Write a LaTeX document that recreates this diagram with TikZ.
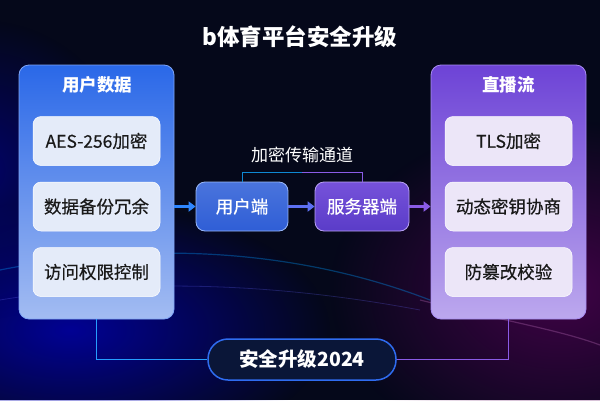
\documentclass[tikz,border=0pt]{standalone}
\usepackage{fontspec}
\setmainfont{Noto Sans CJK SC}
\newfontfamily\cjkmid{Noto Sans CJK SC}[UprightFeatures={FakeBold=0.5}]
\usetikzlibrary{positioning,arrows.meta,fadings}
\pgfdeclarelayer{background}
\pgfsetlayers{background,main}

\definecolor{bgdark}{HTML}{05081A}
\definecolor{bluedeep}{HTML}{2A68E8}
\definecolor{bluelight}{HTML}{A3BCF2}
\definecolor{blueedge}{HTML}{7FA6F7}
\definecolor{violetdeep}{HTML}{6D43D6}
\definecolor{violetlight}{HTML}{BCA8EE}
\definecolor{violetedge}{HTML}{A88CF2}
\definecolor{itemblue}{HTML}{E4EBF9}
\definecolor{itemviolet}{HTML}{ECE6F8}
\definecolor{linkblue}{HTML}{2F86FF}
\definecolor{linkviolet}{HTML}{8A5BE6}
\definecolor{pillfill}{HTML}{0A1638}
\definecolor{pilledge}{HTML}{2F6CF0}
\definecolor{uetop}{HTML}{4A74DC}
\definecolor{uebottom}{HTML}{2F5ED6}
\definecolor{setop}{HTML}{7652DA}
\definecolor{sebottom}{HTML}{5A3CC8}

\tikzfading[name=glowfade, inner color=transparent!0, outer color=transparent!100]

\tikzset{
  panel/.style={rectangle, rounded corners=10pt, minimum width=155pt, minimum height=254pt, line width=0.8pt},
  paneltitle/.style={text=white, font=\fontsize{17.5}{20}\selectfont\bfseries},
  itembox/.style={rectangle, rounded corners=8pt, minimum width=127pt, minimum height=49pt, draw=white!70, line width=0.5pt, text=black!90, font=\fontsize{17.5}{20}\cjkmid},
  endbox/.style={rectangle, rounded corners=9pt, minimum height=49pt, line width=0.8pt, text=white, font=\fontsize{17.5}{20}\cjkmid},
  flowarrow/.style={line width=3pt, -{Triangle[length=7pt,width=10pt]}},
  tunnelline/.style={line width=1pt},
  glowline/.style={draw=#1, line width=7pt, opacity=0.12, rounded corners=12pt}
}

\begin{document}
\begin{tikzpicture}[x=1pt,y=-1pt]
  \useasboundingbox (0,0) rectangle (600,400);
  % background
  \begin{scope}
    \clip (0,0) rectangle (600,400);
    \fill[bgdark] (0,0) rectangle (600,400);
    \fill[blue!70!black, path fading=glowfade, opacity=0.8] (70,330) ellipse (260 and 130);
    \fill[violet!70!black, path fading=glowfade, opacity=0.7] (560,290) ellipse (230 and 170);
    \fill[blue!60!black, path fading=glowfade, opacity=0.6] (-20,170) ellipse (150 and 150);
    \draw[blue!40!cyan, line width=1.2pt, opacity=0.35] (0,270) .. controls (150,240) and (300,250) .. (430,300);
    \draw[blue!60!white, line width=0.8pt, opacity=0.25] (0,300) .. controls (120,280) and (260,280) .. (420,310);
    \draw[violet!60!white, line width=1.2pt, opacity=0.35] (420,300) .. controls (500,320) and (560,330) .. (600,345);
  \end{scope}

  % title
  \node[text=white, font=\fontsize{22.5}{26}\selectfont\bfseries] (title) at (300,37) {b体育平台安全升级};

  % left panel
  \node[panel, top color=bluedeep, bottom color=bluelight, draw=blueedge] (userdata) at (96.5,192) {};
  \node[paneltitle] (userdatatitle) at (97,85) {用户数据};
  \foreach \t [count=\i] in {AES-256加密,数据备份冗余,访问权限控制}
    \node[itembox, fill=itemblue] (l\i) at (96.5,{141+65.5*(\i-1)}) {\t};

  % right panel
  \node[panel, top color=violetdeep, bottom color=violetlight, draw=violetedge] (stream) at (508.5,192) {};
  \node[paneltitle] (streamtitle) at (508.5,85) {直播流};
  \foreach \t [count=\i] in {TLS加密,动态密钥协商,防篡改校验}
    \node[itembox, fill=itemviolet] (r\i) at (508.5,{141+65.5*(\i-1)}) {\t};

  % middle channel
  \node[endbox, minimum width=92pt, top color=uetop, bottom color=uebottom, draw=blueedge!80] (ue) at (242,206.5) {用户端};
  \node[endbox, minimum width=94pt, top color=setop, bottom color=sebottom, draw=violetedge!80] (se) at (362,206.5) {服务器端};
  \node[text=white!90, font=\fontsize{17}{20}\selectfont] (tunnel) at (302,155) {加密传输通道};
  \coordinate (tunnelmid) at (302,172);
  \draw[tunnelline, cyan!70!blue] (ue.north) |- (tunnelmid);
  \draw[tunnelline, linkviolet] (tunnelmid) -| (se.north);

  \draw[flowarrow, linkblue] (userdata.east |- ue.west) -- (ue.west);
  \draw[flowarrow, linkblue!50!linkviolet] (ue.east) -- (se.west);
  \draw[flowarrow, linkviolet] (se.east) -- (stream.west |- se.east);

  % upgrade pill
  \node[rectangle, rounded corners=20pt, minimum width=188pt, minimum height=41pt, fill=pillfill, draw=pilledge, line width=1.5pt, text=white, font=\fontsize{19.5}{22}\selectfont\bfseries] (upg) at (302,359.5) {安全升级2024};
  \draw[tunnelline, linkblue!80!cyan] (userdata.south) |- (upg.west);
  \draw[tunnelline, linkviolet] (stream.south) |- (upg.east);

  % glows
  \begin{pgfonlayer}{background}
    \draw[glowline=linkblue] (userdata.south west) rectangle (userdata.north east);
    \draw[glowline=linkviolet] (stream.south west) rectangle (stream.north east);
    \draw[glowline=pilledge, rounded corners=20pt] (upg.south west) rectangle (upg.north east);
  \end{pgfonlayer}
\end{tikzpicture}
\end{document}
